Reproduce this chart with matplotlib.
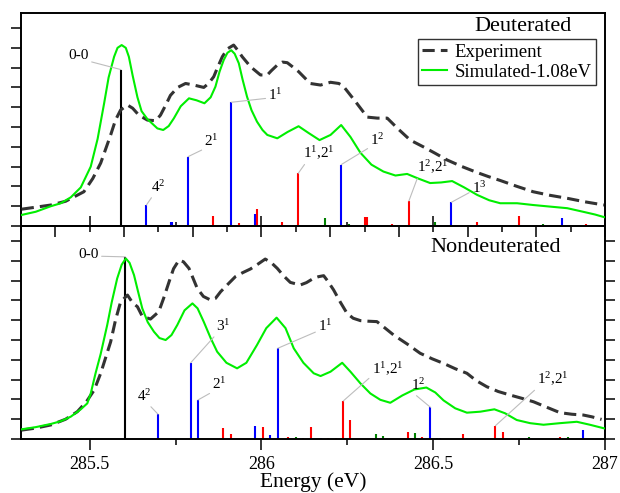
import numpy as np
import matplotlib.pyplot as plt
from matplotlib.ticker import MultipleLocator

plt.rcParams['font.family'] = ['Liberation Serif', 'DejaVu Serif']
plt.rcParams['mathtext.fontset'] = 'custom'
plt.rcParams['mathtext.rm'] = 'Liberation Serif'
plt.rcParams['mathtext.it'] = 'Liberation Serif:italic'

# ---------------- Deuterated (top panel) ----------------
d_exp_E = [285.302, 285.343, 285.387, 285.430, 285.483, 285.509, 285.532, 285.561, 285.575,
           285.590, 285.610, 285.625, 285.643, 285.668, 285.692, 285.706, 285.721, 285.735,
           285.756, 285.779, 285.803, 285.832, 285.846, 285.861, 285.872, 285.886, 285.901,
           285.919, 285.930, 285.944, 285.968, 285.997, 286.017, 286.029, 286.046, 286.061,
           286.075, 286.090, 286.108, 286.125, 286.142, 286.172, 286.201, 286.225, 286.238,
           286.273, 286.308, 286.337, 286.366, 286.398, 286.433, 286.471, 286.506, 286.541,
           286.584, 286.628, 286.660, 286.695, 286.744, 286.791, 286.840, 286.890, 286.942,
           286.997]
d_exp_I = [0.85, 0.95, 1.06, 1.25, 1.73, 2.4, 3.18, 4.6, 5.35,
           5.86, 6.11, 5.95, 5.6, 5.35, 5.32, 5.6, 6.1, 6.6,
           7.0, 7.2, 7.12, 7.0, 7.2, 7.54, 8.0, 8.55, 8.95,
           9.14, 8.9, 8.55, 8.05, 7.63, 7.63, 7.85, 8.13, 8.28,
           8.25, 8.05, 7.8, 7.5, 7.2, 7.12, 7.26, 7.2, 7.07,
           6.3, 5.5, 5.45, 5.45, 4.9, 4.34, 4.0, 3.67, 3.33,
           3.0, 2.7, 2.5, 2.3, 2.0, 1.73, 1.55, 1.4, 1.22,
           1.06]

d_sim_E = [285.302, 285.343, 285.387, 285.416, 285.445, 285.474, 285.503, 285.523, 285.542,
           285.555, 285.571, 285.581, 285.593, 285.605, 285.614, 285.625, 285.639, 285.651,
           285.668, 285.697, 285.714, 285.730, 285.745, 285.765, 285.789, 285.811, 285.834,
           285.852, 285.866, 285.878, 285.890, 285.901, 285.912, 285.922, 285.934, 285.945,
           285.958, 285.971, 285.987, 286.003, 286.017, 286.046, 286.076, 286.108, 286.137,
           286.169, 286.201, 286.232, 286.259, 286.288, 286.320, 286.355, 286.390, 286.424,
           286.456, 286.491, 286.523, 286.555, 286.590, 286.628, 286.663, 286.695, 286.744,
           286.791, 286.840, 286.890, 286.936, 286.971, 286.997]
d_sim_I = [0.56, 0.72, 1.0, 1.15, 1.45, 1.95, 3.0, 4.4, 6.2,
           7.5, 8.55, 9.0, 9.14, 9.0, 8.55, 7.6, 6.5, 5.8,
           5.4, 4.93, 4.85, 5.05, 5.44, 6.05, 6.45, 6.35, 6.2,
           6.5, 7.04, 7.8, 8.38, 8.75, 8.88, 8.7, 8.22, 7.4,
           6.53, 5.85, 5.27, 4.85, 4.6, 4.43, 4.75, 5.04, 4.7,
           4.34, 4.6, 5.1, 4.5, 3.7, 3.1, 2.75, 2.55, 2.63,
           2.4, 2.17, 2.2, 2.27, 1.95, 1.57, 1.3, 1.15, 1.15,
           1.06, 0.98, 0.9, 0.72, 0.58, 0.45]

d_black_E = [285.591]
d_black_I = [7.9]
d_blue_E = [285.665, 285.737, 285.741, 285.786, 285.817, 285.912, 285.981, 286.177, 286.232,
            286.553, 286.875]
d_blue_I = [1.06, 0.22, 0.22, 3.5, 0.05, 6.25, 0.6, 0.05, 3.1, 1.2, 0.4]
d_red_E = [285.860, 285.935, 285.987, 286.059, 286.107, 286.137, 286.302, 286.306, 286.380,
           286.429, 286.626, 286.749, 286.945]
d_red_I = [0.5, 0.13, 0.87, 0.18, 2.66, 0.05, 0.44, 0.44, 0.12, 1.26, 0.19, 0.5, 0.12]
d_green_E = [286.184, 286.256, 286.504, 286.820]
d_green_I = [0.39, 0.1, 0.2, 0.1]

d_labels = ['0-0', r'$4^2$', r'$2^1$', r'$1^1$', r'$1^1$,$2^1$', r'$1^2$', r'$1^2$,$2^1$',
            r'$1^3$']
d_label_E = [285.591, 285.665, 285.786, 285.912, 286.107, 286.232, 286.429, 286.553]

# ---------------- Nondeuterated (bottom panel) ----------------
n_exp_E = [285.302, 285.343, 285.387, 285.430, 285.464, 285.491, 285.513, 285.532, 285.561,
           285.575, 285.590, 285.610, 285.624, 285.639, 285.653, 285.677, 285.701, 285.715,
           285.731, 285.744, 285.760, 285.773, 285.789, 285.813, 285.831, 285.852, 285.866,
           285.881, 285.904, 285.924, 285.945, 285.968, 285.991, 286.011, 286.029, 286.046,
           286.064, 286.084, 286.113, 286.131, 286.152, 286.166, 286.181, 286.192, 286.210,
           286.230, 286.249, 286.267, 286.288, 286.311, 286.336, 286.360, 286.385, 286.424,
           286.462, 286.497, 286.530, 286.564, 286.598, 286.625, 286.656, 286.689, 286.724,
           286.759, 286.792, 286.831, 286.869, 286.904, 286.937, 286.962, 286.990]
n_exp_I = [0.45, 0.55, 0.71, 1.0, 1.38, 1.9, 2.47, 3.32, 4.91,
           6.0, 6.93, 7.27, 6.9, 6.68, 6.2, 6.06, 6.43, 7.1,
           7.94, 8.6, 9.04, 8.95, 8.62, 7.61, 7.2, 7.02, 7.1,
           7.44, 7.85, 8.2, 8.4, 8.59, 8.85, 9.09, 8.9, 8.62,
           8.25, 7.91, 7.78, 7.9, 8.12, 8.2, 8.25, 8.0, 7.53,
           6.9, 6.35, 6.1, 5.98, 5.95, 5.93, 5.6, 5.25, 4.8,
           4.33, 4.05, 3.82, 3.55, 3.32, 2.95, 2.64, 2.4, 2.22,
           2.05, 1.88, 1.6, 1.33, 1.25, 1.21, 1.12, 0.99]

n_sim_E = [285.302, 285.343, 285.387, 285.416, 285.445, 285.474, 285.493, 285.503, 285.517,
           285.532, 285.551, 285.564, 285.580, 285.593, 285.605, 285.616, 285.629, 285.640,
           285.653, 285.669, 285.687, 285.703, 285.721, 285.738, 285.755, 285.776, 285.799,
           285.814, 285.832, 285.852, 285.871, 285.898, 285.929, 285.956, 285.987, 286.014,
           286.044, 286.070, 286.094, 286.122, 286.152, 286.172, 286.201, 286.235, 286.259,
           286.288, 286.317, 286.346, 286.375, 286.410, 286.445, 286.480, 286.506, 286.530,
           286.564, 286.598, 286.637, 286.678, 286.709, 286.743, 286.782, 286.821, 286.869,
           286.918, 286.956, 286.997]
n_sim_I = [0.49, 0.6, 0.76, 0.9, 1.13, 1.5, 1.8, 2.3, 3.32,
           4.3, 5.76, 6.9, 8.11, 8.8, 9.12, 8.9, 8.28, 7.5,
           6.6, 5.9, 5.42, 5.1, 5.0, 5.25, 5.76, 6.5, 6.85,
           6.6, 5.92, 5.1, 4.41, 3.85, 3.57, 3.85, 4.75, 5.6,
           6.13, 5.6, 4.58, 3.85, 3.32, 3.18, 3.4, 3.85, 3.4,
           2.81, 2.3, 1.98, 1.83, 2.2, 2.5, 2.6, 2.35, 1.95,
           1.55, 1.33, 1.38, 1.5, 1.3, 0.96, 0.8, 0.72, 0.8,
           0.87, 0.72, 0.54]

n_black_E = [285.604]
n_black_I = [9.2]
n_blue_E = [285.699, 285.794, 285.815, 285.982, 286.025, 286.047, 286.172, 286.492, 286.520,
            286.935]
n_blue_I = [1.25, 3.85, 1.97, 0.66, 0.2, 4.58, 0.05, 1.6, 0.03, 0.47]
n_red_E = [285.888, 285.910, 286.004, 286.078, 286.122, 286.143, 286.193, 286.216, 286.238,
           286.259, 286.426, 286.468, 286.586, 286.681, 286.702, 286.870]
n_red_I = [0.54, 0.25, 0.6, 0.08, 0.05, 0.62, 0.06, 0.03, 1.92,
           0.96, 0.34, 0.12, 0.24, 0.67, 0.34, 0.12]
n_green_E = [286.100, 286.332, 286.353, 286.448, 286.510, 286.778, 286.892]
n_green_I = [0.08, 0.25, 0.13, 0.29, 0.03, 0.08, 0.1]

n_labels = ['0-0', r'$4^2$', r'$3^1$', r'$2^1$', r'$1^1$', r'$1^1$,$2^1$', r'$1^2$',
            r'$1^2$,$2^1$']
n_label_E = [285.604, 285.699, 285.794, 285.815, 286.047, 286.238, 286.492, 286.681]

# label text placement (x, y, anchor of leader on text)
d_label_pos = [(285.468, 8.60, (0.95, 0.1)), (285.700, 1.97, (0.15, 0.0)),
               (285.855, 4.30, (0.1, 0.05)), (286.041, 6.62, (0.0, 0.3)),
               (286.168, 3.69, (0.1, 0.0)), (286.338, 4.34, (0.05, 0.1)),
               (286.498, 2.98, (0.05, 0.0)), (286.634, 1.92, (0.0, 0.3))]
n_label_pos = [(285.497, 9.30, (1.0, 0.4)), (285.660, 2.17, (0.75, 0.0)),
               (285.890, 5.70, (0.0, 0.0)), (285.878, 2.78, (0.0, 0.0)),
               (286.186, 5.70, (0.0, 0.2)), (286.367, 3.54, (0.0, 0.1)),
               (286.457, 2.73, (0.0, 0.1)), (286.849, 3.03, (0.0, 0.0))]


def draw_panel(ax, exp_E, exp_I, sim_E, sim_I, sticks, labels, label_E, label_pos):
    for xs, ys, c in sticks:
        ax.vlines(xs, 0, ys, color=c, lw=1.5, zorder=2)
    ax.plot(exp_E, exp_I, color='#333333', lw=2.2, ls=(0, (4, 2)), label='Experiment', zorder=3)
    ax.plot(sim_E, sim_I, color='#00ee00', lw=1.5, label='Simulated-1.08eV', zorder=4)
    for lab, e, (tx, ty, rp) in zip(labels, label_E, label_pos):
        h = None
        for xs, ys, c in sticks:
            for x, y in zip(xs, ys):
                if abs(x - e) < 1e-6:
                    h = y
        ax.annotate(lab, xy=(e, h), xytext=(tx, ty), ha='center', va='center', fontsize=11,
                    arrowprops=dict(arrowstyle='-', color='#bdbdbd', lw=0.8, relpos=rp,
                                    shrinkA=0, shrinkB=0), zorder=5)
    ax.set_xlim(285.3, 287.0)
    ax.set_ylim(0, 10.76)
    ax.yaxis.set_major_locator(MultipleLocator(1))
    ax.tick_params(axis='y', which='major', direction='out', length=7, width=1.1,
                   labelleft=False)
    for s in ax.spines.values():
        s.set_linewidth(1.4)


fig = plt.figure(figsize=(6.2, 4.93), dpi=100)
ax1 = fig.add_subplot(211)
ax2 = fig.add_subplot(212, sharex=ax1)
plt.subplots_adjust(left=21 / 620, right=605 / 620, top=1 - 13 / 493, bottom=1 - 439 / 493,
                    hspace=0)

draw_panel(ax1, d_exp_E, d_exp_I, d_sim_E, d_sim_I,
           [(d_black_E, d_black_I, 'black'), (d_blue_E, d_blue_I, 'blue'),
            (d_red_E, d_red_I, 'red'), (d_green_E, d_green_I, 'green')],
           d_labels, d_label_E, d_label_pos)
draw_panel(ax2, n_exp_E, n_exp_I, n_sim_E, n_sim_I,
           [(n_black_E, n_black_I, 'black'), (n_blue_E, n_blue_I, 'blue'),
            (n_red_E, n_red_I, 'red'), (n_green_E, n_green_I, 'green')],
           n_labels, n_label_E, n_label_pos)

# top panel x ticks: inward, no labels
ax1.xaxis.set_major_locator(MultipleLocator(0.5))
ax1.xaxis.set_minor_locator(MultipleLocator(0.25))
ax1.tick_params(axis='x', which='major', direction='in', length=7, width=1.1,
                labelbottom=False)
ax1.tick_params(axis='x', which='minor', direction='in', length=3, width=1.1)

# bottom panel: outward ticks, right side too
ax2.tick_params(axis='x', which='major', direction='out', length=8, width=1.1,
                labelsize=13, pad=4)
ax2.tick_params(axis='x', which='minor', direction='out', length=4, width=1.1)
ax2.tick_params(axis='y', which='major', right=True, labelright=False)
ax2.set_xticks([285.5, 286, 286.5, 287])
ax2.set_xticklabels(['285.5', '286', '286.5', '287'])

sec = ax2.secondary_xaxis('top')
sec.xaxis.set_major_locator(MultipleLocator(0.2))
sec.xaxis.set_minor_locator(MultipleLocator(0.1))
sec.tick_params(axis='x', which='major', direction='in', length=8, width=1.1, labeltop=False)
sec.tick_params(axis='x', which='minor', direction='in', length=4, width=1.1)
sec.spines['top'].set_linewidth(1.4)

ax2.set_xlabel('Energy (eV)', fontsize=15.5, labelpad=0)

ax1.text(0.860, 0.935, 'Deuterated', transform=ax1.transAxes, ha='center', va='center',
         fontsize=16)
ax2.text(0.812, 0.897, 'Nondeuterated', transform=ax2.transAxes, ha='center', va='center',
         fontsize=16)

leg = ax1.legend(loc='upper right', bbox_to_anchor=(0.9846, 0.878), fontsize=13.5,
                 frameon=True, fancybox=False, borderpad=0.25, labelspacing=0.15,
                 handlelength=1.3, handletextpad=0.4, borderaxespad=0)
leg.get_frame().set_edgecolor('black')
leg.get_frame().set_linewidth(1.0)

plt.savefig('out.png', dpi=100)
